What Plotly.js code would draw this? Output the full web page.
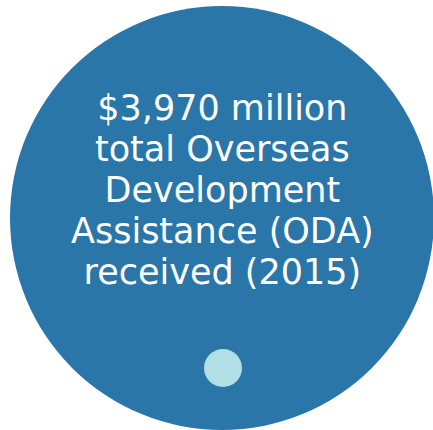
<!DOCTYPE html>
<html><head><meta charset="utf-8">
<script src="https://cdn.plot.ly/plotly-3.0.1.min.js"></script>
<style>html,body{margin:0;padding:0;background:#fff;}#chart{width:433px;height:430px;}</style>
</head><body><div id="chart"></div>
<script>
const valueMillions = [3970];
const year = [2015];
const labelLines = [
  "$" + valueMillions[0].toLocaleString("en-US") + " million",
  "total Overseas",
  "Development",
  "Assistance (ODA)",
  "received (" + year[0] + ")"
];

const W = 433, H = 430;

const labelText = labelLines
  .map(t => '<span style="font-size:35px">' + t + '</span>')
  .join('<br>');

const layout = {
  width: W, height: H,
  margin: {l: 0, r: 0, t: 0, b: 0},
  paper_bgcolor: '#ffffff', plot_bgcolor: '#ffffff',
  showlegend: false,
  xaxis: {range: [0, W], visible: false, fixedrange: true},
  yaxis: {range: [H, 0], visible: false, fixedrange: true},
  shapes: [
    {type: 'circle', xref: 'x', yref: 'y', x0: 10, x1: 434, y0: 6, y1: 430,
     fillcolor: '#2a76a8', line: {width: 0}, layer: 'below'},
    {type: 'circle', xref: 'x', yref: 'y', x0: 204, x1: 242, y0: 349, y1: 387,
     fillcolor: '#b0dfe5', line: {width: 0}, layer: 'below'}
  ],
  annotations: [{
    x: 222, y: 190, xref: 'x', yref: 'y',
    text: labelText, showarrow: false, xanchor: 'center', yanchor: 'middle', align: 'center',
    font: {family: 'DejaVu Sans', size: 31.5, color: '#ffffff'}
  }]
};

Plotly.newPlot('chart', [{x: [], y: [], type: 'scatter', mode: 'markers', hoverinfo: 'skip'}], layout, {displayModeBar: false, staticPlot: true});
</script></body></html>
